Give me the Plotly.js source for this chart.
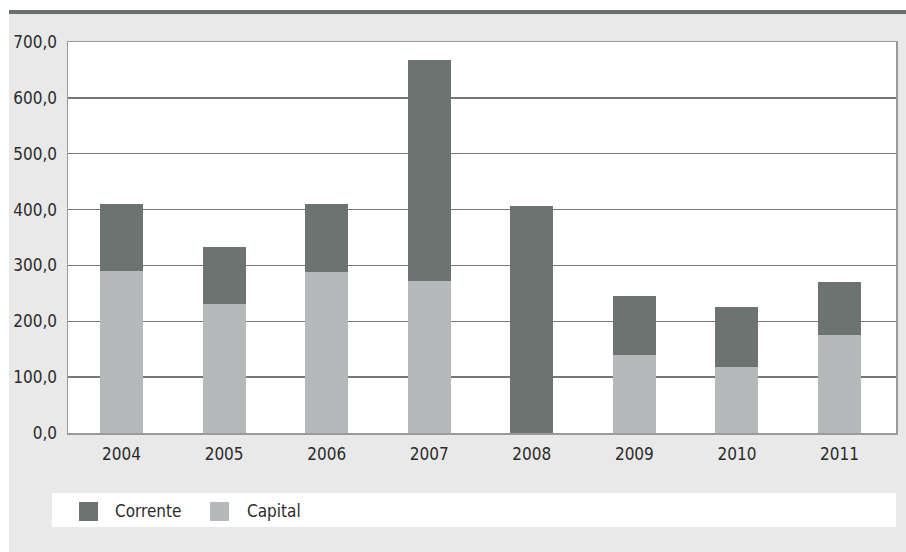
<!DOCTYPE html>
<html>
<head>
<meta charset="utf-8">
<script src="https://cdn.plot.ly/plotly-3.0.1.min.js"></script>
<style>
html,body{margin:0;padding:0;background:#fff;}
#chart{width:906px;height:552px;}
</style>
</head>
<body>
<div id="chart"></div>
<script>
const years = ['2004','2005','2006','2007','2008','2009','2010','2011'];
const capital = [290, 231, 288, 273, 0, 139, 118, 175];
const corrente = [120, 102, 122, 395, 407, 107, 107, 95];
const seriesNames = ['Corrente', 'Capital'];
const yTicks = [0, 100, 200, 300, 400, 500, 600, 700];

const W = 906, H = 552;
const M = {l: 68, r: 10, t: 42, b: 119};
const PW = W - M.l - M.r, PH = H - M.t - M.b;
const px = v => (v - M.l) / PW;
const py = v => (H - M.b - v) / PH;

const FONT = "'DejaVu Sans Condensed', 'Liberation Sans Narrow', 'Arial Narrow', sans-serif";
const TXT = '#2b2b2b';
const cCorr = '#6d7371', cCap = '#b6b9b9';

const traces = [
  {type: 'bar', x: years, y: capital, name: seriesNames[1], marker: {color: cCap, line: {width: 0}}, width: 0.42, showlegend: false, hoverinfo: 'none'},
  {type: 'bar', x: years, y: corrente, name: seriesNames[0], marker: {color: cCorr, line: {width: 0}}, width: 0.42, showlegend: false, hoverinfo: 'none'}
];

const shapes = [
  {type: 'rect', xref: 'paper', yref: 'paper', x0: px(9), x1: px(906), y0: py(552), y1: py(14), fillcolor: '#e9e9e9', line: {width: 0}, layer: 'below'},
  {type: 'rect', xref: 'paper', yref: 'paper', x0: 0, x1: 1, y0: 0, y1: 1, fillcolor: '#ffffff', line: {width: 0}, layer: 'below'},
  {type: 'rect', xref: 'paper', yref: 'paper', x0: px(9), x1: px(906), y0: py(14), y1: py(10), fillcolor: '#6b706e', line: {width: 0}, layer: 'below'},
  {type: 'rect', xref: 'paper', yref: 'paper', x0: px(52), x1: px(896), y0: py(527), y1: py(493), fillcolor: '#ffffff', line: {width: 0}, layer: 'below'},
  {type: 'rect', xref: 'paper', yref: 'paper', x0: px(79), x1: px(98), y0: py(521), y1: py(502), fillcolor: cCorr, line: {width: 0}},
  {type: 'rect', xref: 'paper', yref: 'paper', x0: px(210), x1: px(229), y0: py(521), y1: py(502), fillcolor: cCap, line: {width: 0}}
];

const annotations = [
  {xref: 'paper', yref: 'paper', x: px(113), y: py(511), xanchor: 'left', yanchor: 'middle', text: seriesNames[0], showarrow: false, font: {family: FONT, size: 17, color: TXT}},
  {xref: 'paper', yref: 'paper', x: px(245), y: py(511), xanchor: 'left', yanchor: 'middle', text: seriesNames[1], showarrow: false, font: {family: FONT, size: 17, color: TXT}},
  {xref: 'paper', yref: 'paper', x: px(122), y: py(3), xanchor: 'left', yanchor: 'bottom', text: '(milhões de euros)', showarrow: false, font: {family: FONT, size: 17, color: TXT}}
];

const layout = {
  width: W, height: H,
  margin: M,
  paper_bgcolor: '#ffffff',
  plot_bgcolor: '#ffffff',
  separators: ',.',
  barmode: 'stack',
  font: {family: FONT, size: 17, color: TXT},
  showlegend: false,
  xaxis: {
    type: 'category',
    range: [-0.522, 7.551],
    showgrid: false,
    showline: true, mirror: true, linecolor: '#9a9a9a', linewidth: 1.5,
    ticks: '', ticklabelstandoff: 5,
    tickfont: {family: FONT, size: 17, color: TXT},
    fixedrange: true
  },
  yaxis: {
    range: [0, 700],
    tickvals: yTicks,
    tickformat: '.1f',
    showgrid: true, gridcolor: '#777777', gridwidth: 1.3,
    zeroline: false,
    showline: true, mirror: true, linecolor: '#9a9a9a', linewidth: 1.5,
    ticks: '', ticklabelstandoff: 6,
    tickfont: {family: FONT, size: 17, color: TXT},
    fixedrange: true
  },
  shapes: shapes,
  annotations: annotations
};

Plotly.newPlot('chart', traces, layout, {displayModeBar: false, staticPlot: true});
</script>
</body>
</html>
